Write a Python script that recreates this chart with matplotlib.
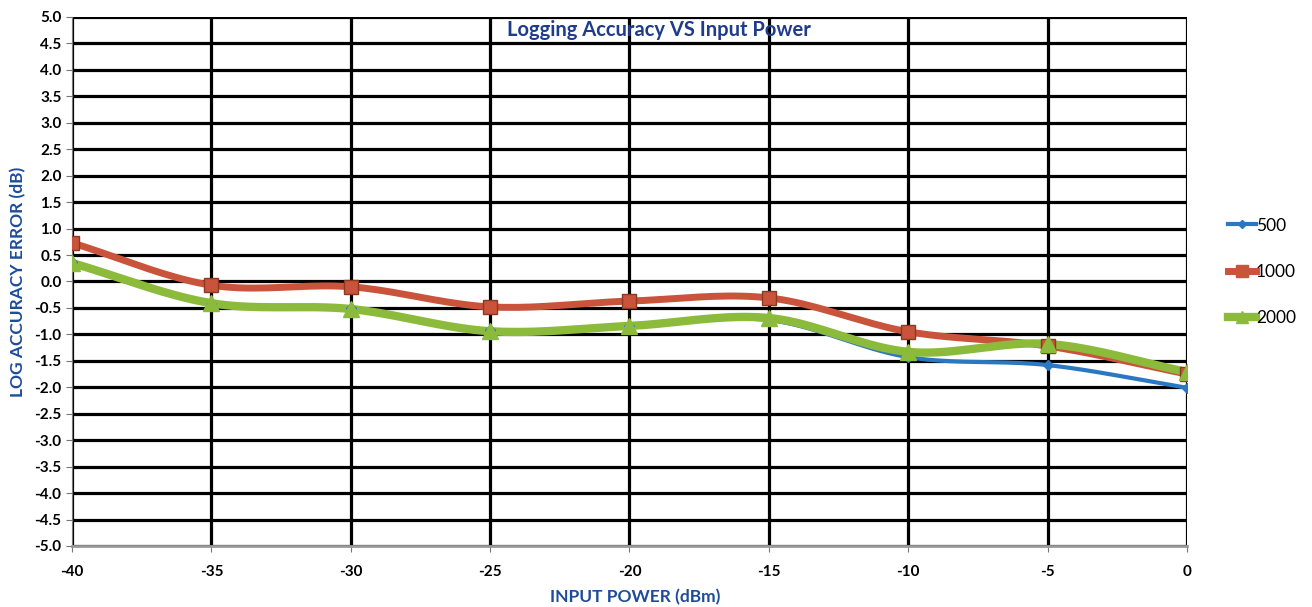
import numpy as np
import matplotlib
matplotlib.use('Agg')
import matplotlib.pyplot as plt

plt.rcParams['font.family'] = ['Lato', 'DejaVu Sans']

# data
input_power = [-40, -35, -30, -25, -20, -15, -10, -5, 0]
err_500 = [0.36, -0.42, -0.50, -0.92, -0.84, -0.73, -1.43, -1.58, -2.01]
err_1000 = [0.73, -0.07, -0.10, -0.48, -0.37, -0.31, -0.95, -1.22, -1.75]
err_2000 = [0.35, -0.41, -0.52, -0.94, -0.84, -0.69, -1.33, -1.18, -1.71]
series_names = ['500', '1000', '2000']
y_ticks = np.arange(-5.0, 5.01, 0.5)
x_ticks = input_power


def smooth(xs, ys, n=20):
    # catmull-rom curve through the points, like excel's smoothed line
    xs = np.asarray(xs, float)
    ys = np.asarray(ys, float)
    px = np.concatenate([[2 * xs[0] - xs[1]], xs, [2 * xs[-1] - xs[-2]]])
    py = np.concatenate([[2 * ys[0] - ys[1]], ys, [2 * ys[-1] - ys[-2]]])
    out_x, out_y = [], []
    t = np.linspace(0, 1, n, endpoint=False)
    for i in range(1, len(px) - 2):
        for p, o in ((px, out_x), (py, out_y)):
            p0, p1, p2, p3 = p[i - 1], p[i], p[i + 1], p[i + 2]
            o.extend(0.5 * (2 * p1 + (-p0 + p2) * t
                            + (2 * p0 - 5 * p1 + 4 * p2 - p3) * t ** 2
                            + (-p0 + 3 * p1 - 3 * p2 + p3) * t ** 3))
    out_x.append(xs[-1])
    out_y.append(ys[-1])
    return out_x, out_y


fig = plt.figure(figsize=(13.12, 6.07), dpi=100)
ax = fig.add_axes([0.0549, 0.1005, 0.8498, 0.8715])

styles = [
    (err_500, '#2A78C2', 'D', 5, 3),
    (err_1000, '#C9533B', 's', 10, 5),
    (err_2000, '#8CBB3C', '^', 11, 6),
]
handles = []
for (vals, col, mk, ms, lw), name in zip(styles, series_names):
    sx, sy = smooth(input_power, vals)
    ax.plot(sx, sy, color=col, lw=lw, solid_capstyle='round', zorder=3)
    ax.plot(input_power, vals, ls='none', marker=mk, ms=ms, color=col,
            markeredgecolor='#8a3a20' if mk == 's' else col, zorder=4)
    h, = ax.plot([], [], color=col, lw=lw, marker=mk, ms=ms * 0.8, label=name)
    handles.append(h)

ax.set_xlim(-40, 0)
ax.set_ylim(-5, 5)
ax.set_xticks(x_ticks)
ax.set_xticklabels([str(v) for v in x_ticks])
ax.set_yticks(y_ticks)
ax.set_yticklabels(['%.1f' % v for v in y_ticks])
ax.grid(True, color='black', lw=2.3, zorder=1)
ax.set_axisbelow(True)
for s in ['top', 'right']:
    ax.spines[s].set_visible(False)
ax.spines['left'].set_color('#777777')
ax.spines['bottom'].set_color('#999999')
ax.spines['bottom'].set_linewidth(2)
ax.tick_params(axis='both', labelsize=11, length=4, color='#777777')
for lab in ax.get_xticklabels() + ax.get_yticklabels():
    lab.set_fontweight('bold')
ax.tick_params(axis='x', pad=10)

fig.text(0.502, 0.950, 'Logging Accuracy VS Input Power', ha='center', va='center',
         fontsize=14.5, fontweight='bold', color='#1F3C8C')
fig.text(0.484, 0.016, 'INPUT POWER (dBm)', ha='center', va='center',
         fontsize=12.5, fontweight='bold', color='#1F4C9A')
fig.text(0.014, 0.535, 'LOG ACCURACY ERROR (dB)', ha='center', va='center',
         rotation=90, fontsize=12.5, fontweight='bold', color='#1F4C9A')

fig.legend(handles=handles, loc='center left', bbox_to_anchor=(0.936, 0.552),
           frameon=False, fontsize=12.5, handlelength=1.6, handletextpad=0.0,
           labelspacing=1.75, borderaxespad=0, borderpad=0)

fig.savefig('out.png', dpi=100)
